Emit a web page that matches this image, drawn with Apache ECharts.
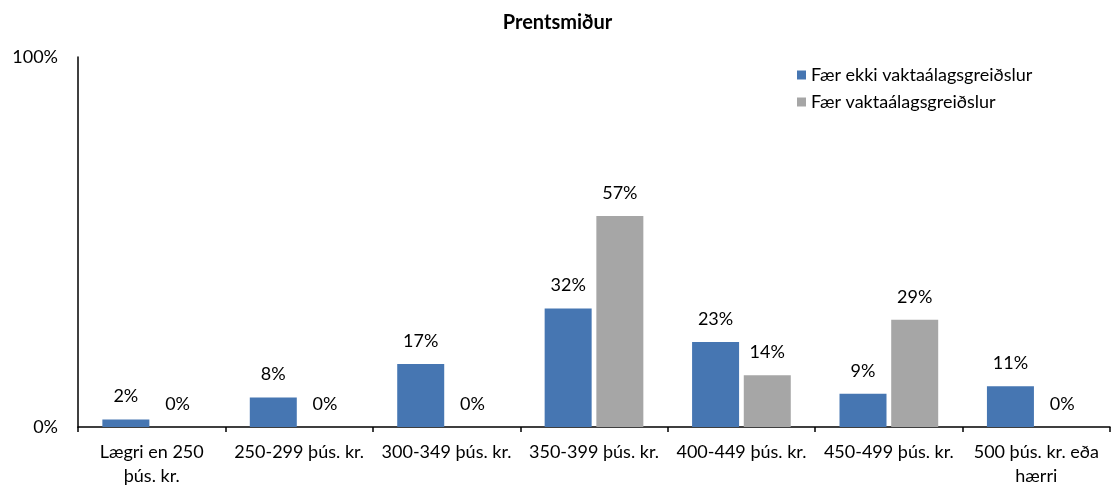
<!DOCTYPE html>
<html>
<head>
<meta charset="utf-8">
<script src="https://cdn.jsdelivr.net/npm/echarts@6/dist/echarts.min.js"></script>
<style>
  html, body { margin: 0; padding: 0; background: #fff; }
  #chart { width: 1115px; height: 493px; }
</style>
</head>
<body>
<div id="chart"></div>
<script>
  // gögn lesin af myndinni
  var categories = ['Lægri en 250\nþús. kr.', '250-299 þús. kr.', '300-349 þús. kr.', '350-399 þús. kr.', '400-449 þús. kr.', '450-499 þús. kr.', '500 þús. kr. eða\nhærri'];
  var seriesNames = ['Fær ekki vaktaálagsgreiðslur', 'Fær vaktaálagsgreiðslur'];
  var ekkiVakt = [2, 8, 17, 32, 23, 9, 11];
  var vakt = [0, 0, 0, 57, 14, 29, 0];
  var yTicks = [0, 100];

  var font = 'Lato';
  var chart = echarts.init(document.getElementById('chart'));

  function barSeries(name, data, color) {
    return {
      name: name,
      type: 'bar',
      data: data,
      barWidth: 47,
      barGap: '10%',
      itemStyle: { color: color },
      label: {
        show: true,
        position: 'top',
        distance: 14,
        formatter: '{c}%',
        color: '#000',
        fontFamily: font,
        fontSize: 18
      }
    };
  }

  chart.setOption({
    animation: false,
    title: {
      text: 'Prentsmiður',
      left: 'center',
      top: 8,
      textStyle: { fontFamily: font, fontSize: 20, fontWeight: 'bold', color: '#000' }
    },
    legend: {
      orient: 'vertical',
      left: 792,
      top: 61,
      itemWidth: 9,
      itemHeight: 9,
      itemGap: 9,
      icon: 'rect',
      data: seriesNames,
      textStyle: { fontFamily: font, fontSize: 18, color: '#000' }
    },
    grid: { left: 78, right: 5, top: 57, bottom: 66, containLabel: false },
    xAxis: {
      type: 'category',
      data: categories,
      axisLine: { lineStyle: { color: '#000', width: 1.5 } },
      axisTick: { show: true, length: 5, lineStyle: { color: '#000', width: 1.5 } },
      axisLabel: { color: '#000', fontFamily: font, fontSize: 18, margin: 13, lineHeight: 24, interval: 0 }
    },
    yAxis: {
      type: 'value',
      min: yTicks[0],
      max: yTicks[1],
      interval: yTicks[1] - yTicks[0],
      axisLine: { show: true, lineStyle: { color: '#000', width: 1.5 } },
      axisTick: { show: false },
      splitLine: { show: false },
      axisLabel: { color: '#000', fontFamily: font, fontSize: 18, margin: 20, formatter: '{value}%' }
    },
    series: [
      barSeries(seriesNames[0], ekkiVakt, '#4676B2'),
      barSeries(seriesNames[1], vakt, '#A6A6A6')
    ]
  });
</script>
</body>
</html>
